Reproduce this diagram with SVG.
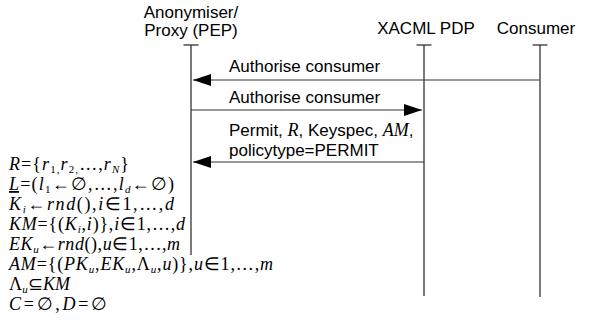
<svg xmlns="http://www.w3.org/2000/svg" width="591" height="329" viewBox="0 0 591 329">
<style>
.lbl{font-family:"Liberation Sans",Arial,sans-serif;font-size:17px;fill:#000}
.m{font-family:"Liberation Serif","Times New Roman",serif;font-size:18px;font-style:italic;fill:#000}
.u{font-style:normal}
.s{font-size:11px}
.life{stroke:#222;stroke-width:1.2;fill:none}
.msg{stroke:#333;stroke-width:1.2;fill:none}
</style>
<defs>
<marker id="ah" markerWidth="18" markerHeight="12" refX="18" refY="6" orient="auto" markerUnits="userSpaceOnUse">
<path d="M0,0 L18,6 L0,12 Z" fill="#000"/>
</marker>
</defs>
<g id="pep">
<text class="lbl" x="191" y="18" text-anchor="middle">Anonymiser/</text>
<text class="lbl" x="191" y="36" text-anchor="middle">Proxy (PEP)</text>
<line class="life" x1="183.5" y1="45" x2="198.5" y2="45"/>
<line class="life" x1="191" y1="45" x2="191" y2="255"/>
</g>
<g id="pdp">
<text class="lbl" x="426" y="34" text-anchor="middle">XACML PDP</text>
<line class="life" x1="416.5" y1="45" x2="431.5" y2="45"/>
<line class="life" x1="424" y1="45" x2="424" y2="296"/>
</g>
<g id="consumer">
<text class="lbl" x="536" y="34" text-anchor="middle">Consumer</text>
<line class="life" x1="532.5" y1="45" x2="547.5" y2="45"/>
<line class="life" x1="540" y1="45" x2="540" y2="297"/>
</g>
<g id="connectors">
<line class="msg" x1="540" y1="80" x2="193" y2="80" marker-end="url(#ah)"/>
<text class="lbl" x="229" y="72">Authorise consumer</text>
<line class="msg" x1="191" y1="110" x2="422" y2="110" marker-end="url(#ah)"/>
<text class="lbl" x="229" y="103">Authorise consumer</text>
<line class="msg" x1="424" y1="162" x2="193" y2="162" marker-end="url(#ah)"/>
<text class="lbl" x="229" y="136">Permit, <tspan class="m" font-size="17">R</tspan>, Keyspec, <tspan class="m" font-size="17">AM</tspan>,</text>
<text class="lbl" x="229" y="156">policytype=PERMIT</text>
</g>
<g id="setup">
<text class="m" x="9" y="170" textLength="120" lengthAdjust="spacing">R<tspan class="u">={</tspan>r<tspan class="u s" dy="3">1,</tspan><tspan dy="-3">r</tspan><tspan class="u s" dy="3">2,</tspan><tspan class="u" dy="-3">…,</tspan>r<tspan class="s" dy="3">N</tspan><tspan class="u" dy="-3">}</tspan></text>
<text class="m" x="9" y="190" textLength="165" lengthAdjust="spacing"><tspan text-decoration="underline">L</tspan><tspan class="u">=(</tspan>l<tspan class="u s" dy="3">1</tspan><tspan class="u" dy="-3">←∅,…,</tspan>l<tspan class="s" dy="3">d</tspan><tspan class="u" dy="-3">←∅)</tspan></text>
<text class="m" x="9" y="210" textLength="165" lengthAdjust="spacing">K<tspan class="s" dy="3">i</tspan><tspan class="u" dy="-3">←</tspan>rnd<tspan class="u">(),</tspan>i<tspan class="u">∈1,…,</tspan>d</text>
<text class="m" x="9" y="230" textLength="176" lengthAdjust="spacing">KM<tspan class="u">={(</tspan>K<tspan class="s" dy="3">i</tspan><tspan class="u" dy="-3">,</tspan>i<tspan class="u">)},</tspan>i<tspan class="u">∈1,…,</tspan>d</text>
<text class="m" x="9" y="250" textLength="171" lengthAdjust="spacing">EK<tspan class="s" dy="3">u</tspan><tspan class="u" dy="-3">←</tspan>rnd<tspan class="u">(),</tspan>u<tspan class="u">∈1,…,</tspan>m</text>
<text class="m" x="9" y="270" textLength="264" lengthAdjust="spacing">AM<tspan class="u">={(</tspan>PK<tspan class="s" dy="3">u</tspan><tspan class="u" dy="-3">,</tspan>EK<tspan class="s" dy="3">u</tspan><tspan class="u" dy="-3">,Λ</tspan><tspan class="s" dy="3">u</tspan><tspan class="u" dy="-3">,</tspan>u<tspan class="u">)},</tspan>u<tspan class="u">∈1,…,</tspan>m</text>
<text class="m" x="9" y="290" textLength="61" lengthAdjust="spacing"><tspan class="u">Λ</tspan><tspan class="s" dy="3">u</tspan><tspan class="u" dy="-3">⊆</tspan>KM</text>
<text class="m" x="9" y="310" textLength="98" lengthAdjust="spacing">C<tspan class="u">=∅,</tspan>D<tspan class="u">=∅</tspan></text>
</g>
</svg>
